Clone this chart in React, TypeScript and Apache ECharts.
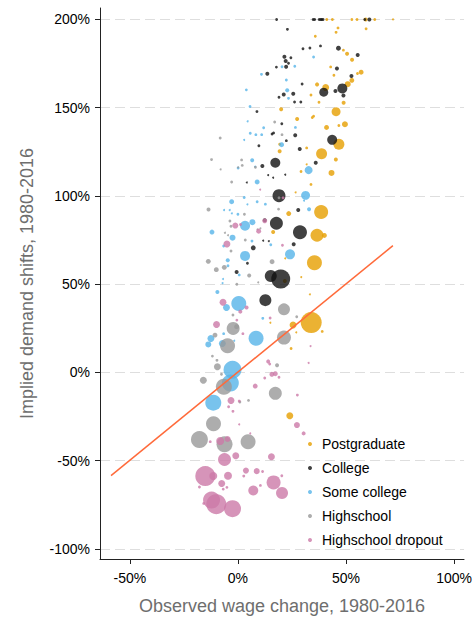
import React, { useEffect, useRef } from "react";
import * as echarts from "echarts";

// [observed wage change %, implied demand shift %, employment weight]
const postgraduate: number[][] = [
  [41.1,200,2],[43.7,200,2],[52.7,200,2],[55.1,200,2],[59.1,200,4],[63.3,200,2],[71.7,200,1],
  [46.3,195.2,2],[45.4,192.7,2],[59.3,194.7,2],[35.8,190.5,2],[48.8,182.6,2],[50.5,180.6,4],[52.8,177.2,4],
  [42.9,173.1,2],[57.0,170.1,6],[55.3,169.4,2],[44.4,168.4,2],[52.7,165.5,6],[50.8,163.3,9],[36.6,163.2,4],
  [40.6,161.5,12],[33.8,157.2,2],[37.5,153.1,2],[48.9,152.8,4],[20.0,149.1,4],[45.4,147.7,20],[35.0,145.2,2],
  [34.4,144.4,2],[27.4,143.6,4],[46.7,139.9,2],[41.0,138.8,6],[49.5,140.6,9],[46.7,129.3,30],[19.3,129.3,2],
  [31.8,127.2,2],[19.3,125.3,4],[38.7,123.9,30],[45.3,120.6,4],[29.2,113.8,2],[43.3,113.0,9],[31.8,117.9,1],
  [33.8,106.5,2],[26.7,102.0,1],[38.5,90.9,49],[23.5,90.0,6],[36.6,77.7,42],[40.0,77.6,6],[16.3,79.5,4],
  [35.4,62.1,56],[21.7,51.8,4],[29.3,54.0,1],[33.3,44.2,1],[33.9,28.2,110],[25.5,26.8,12],[27.0,22.7,1],
  [39.0,23.2,2],[24.6,13.5,2],[24.0,-24.6,12],[21.9,64.6,1],[15.0,28.1,1]
];

const college: number[][] = [
  [17.9,200,2],[34.8,200,2],[35.5,200,2],[37.6,200,2],[38.3,200,2],[38.8,200,2],[39.4,200,2],[58.7,200,2],[60.8,200,4],
  [22.9,194.4,2],[30.1,183.4,2],[33.3,183.8,2],[38.2,185.0,2],[46.5,183.7,6],[55.4,179.9,4],[21.5,178.9,4],
  [22.1,176.5,4],[24.5,178.3,2],[23.4,175.2,2],[22.3,173.2,4],[17.8,173.0,2],[13.6,169.2,4],[45.8,172.2,4],
  [52.5,168.0,4],[29.7,163.4,2],[39.7,158.8,20],[48.3,160.9,25],[45.1,159.5,4],[48.8,156.9,4],[21.2,157.5,4],
  [25.6,157.9,4],[19.0,155.9,2],[26.2,153.2,2],[29.1,153.2,2],[8.8,147.8,2],[20.3,140.9,2],[15.8,135.1,2],
  [16.5,135.7,2],[26.5,134.4,4],[22.4,131.3,2],[43.6,131.8,25],[9.7,128.4,2],[28.6,126.6,4],[17.3,118.8,25],
  [11.3,117.0,4],[36.0,118.8,4],[14.0,111.8,1],[16.3,110.3,1],[21.9,112.0,1],[4.1,107.6,1],[19.0,100.1,42],
  [27.9,92.0,4],[17.8,84.5,42],[28.7,79.4,49],[12.4,86.2,4],[11.7,74.6,1],[14.3,74.4,1],[25.8,72.6,4],
  [7.1,70.6,6],[4.4,61.8,2],[-0.6,56.9,4],[15.2,54.6,36],[19.8,52.9,90],[12.7,40.9,36]
];

const someCollege: number[][] = [
  [35.0,178.7,2],[20.4,173.2,2],[26.3,173.5,2],[10.9,168.9,2],[22.4,165.7,2],[3.9,160.1,2],[22.8,159.9,4],
  [23.4,155.3,2],[5.6,150.7,2],[4.5,142.3,1],[11.9,138.6,2],[26.6,138.8,2],[5.7,135.5,2],[8.3,134.7,2],
  [11.0,134.7,2],[20.2,129.0,6],[2.9,131.7,1],[6.6,120.2,4],[8.0,116.6,1],[0.1,115.8,2],[32.7,114.6,16],
  [8.9,107.9,6],[31.3,100.3,20],[2.9,99.1,2],[-2.9,96.7,6],[8.9,96.7,2],[12.7,95.3,2],[30.6,97.3,1],
  [32.9,92.4,4],[4.4,95.2,1],[-6.4,92.0,1],[-3.8,92.0,1],[-2.8,90.1,1],[0.0,89.6,2],[3.3,83.1,25],
  [6.7,85.1,9],[-12.0,79.5,6],[-2.5,76.3,9],[-6.6,71.6,2],[15.2,72.3,2],[6.5,74.4,2],[24.1,66.9,25],
  [3.3,66.0,25],[-4.7,63.5,4],[-4.6,60.4,2],[0.6,55.2,2],[-6.9,52.9,1],[-7.1,50.6,1],[-9.5,45.5,4],
  [0.4,39.0,56],[-5.3,36.7,12],[11.5,30.6,2],[-6.6,21.9,2],[8.4,19.3,56],[-12.5,19.2,12],[-13.7,15.8,9],
  [-7.2,16.3,12],[-2.5,1.5,81],[-3.5,-6.1,72],[-11.4,-17.2,64],[-1.7,17.9,1]
];

const highschool: number[][] = [
  [-8.2,132.8,2],[17.0,141.9,2],[20.4,134.7,2],[-12.2,120.6,2],[1.7,120.4,2],[2.0,117.3,2],[0.1,116.2,1],
  [-8.0,115.0,1],[-2.9,107.9,2],[19.0,98.9,2],[-13.6,92.3,4],[18.8,92.5,2],[3.0,89.6,2],[-3.7,85.8,2],
  [-3.2,82.8,2],[9.1,81.0,1],[-6.0,79.1,1],[-4.6,77.7,1],[-13.7,62.9,6],[15.8,62.7,6],[-10.0,58.2,6],
  [-6.3,59.5,6],[5.2,54.9,4],[-0.5,49.9,2],[9.4,51.0,1],[21.3,35.7,36],[-2.2,24.9,42],[-0.6,25.9,6],
  [21.3,19.7,49],[-4.8,15.1,56],[-10.6,21.1,6],[-11.8,9.2,2],[-9.5,3.2,12],[18.1,4.0,4],[-16.0,-4.5,12],
  [-6.5,-8.2,64],[17.3,-11.9,42],[4.9,-15.9,2],[0.9,-16.8,2],[-11.3,-29.2,56],[-17.8,-38.1,72],
  [-6.2,-40.8,64],[4.7,-39.4,56],[27.2,31.5,2],[-7.6,-1.1,2],[-9.7,6.8,2],[-2.3,32.5,2],[-3.2,68.8,2],
  [10.4,81.6,1],[3.4,75.0,2],[8.1,116.2,2]
];

const highschoolDropout: number[][] = [
  [10.3,103.6,1],[20.9,98.9,2],[-1.2,83.2,9],[12.4,85.9,6],[1.2,83.8,2],[9.6,80.0,6],[-5.1,72.7,12],
  [20.6,72.0,2],[-6.9,39.7,12],[4.0,36.8,4],[1.1,34.4,4],[-9.9,27.1,12],[2.3,21.9,2],[-0.5,29.6,2],
  [14.9,30.8,2],[14.0,6.2,4],[17.3,-0.8,6],[15.7,-1.1,6],[12.4,-3.2,2],[8.0,-7.8,6],[33.6,14.9,1],
  [32.7,5.3,1],[27.5,-12.9,2],[-3.2,-15.9,12],[-4.3,-19.5,2],[-2.3,-22.1,2],[0.6,-29.5,1],[5.7,-34.6,1],
  [27.3,-29.9,9],[30.4,-34.6,4],[-8.2,-38.9,16],[-4.8,-37.8,9],[-12.8,-39.3,2],[-6.2,-49.4,42],
  [-1.0,-47.3,12],[15.5,-47.8,12],[-15.1,-58.8,100],[-11.4,-58.8,16],[-4.6,-58.6,16],[3.7,-55.7,9],
  [2.7,-58.8,2],[8.7,-56.0,9],[11.4,-56.2,2],[16.5,-62.4,49],[20.3,-58.6,2],[-7.5,-63.0,12],[-5.1,-65.2,2],
  [-6.8,-66.2,2],[-17.8,-65.0,2],[7.1,-67.0,25],[10.4,-64.1,2],[20.4,-68.4,36],[-12.2,-72.4,72],
  [-10.0,-74.7,100],[-15.8,-74.3,2],[-2.5,-77.3,72],[19.0,-2.8,2],[14.7,4.7,2],[0.6,-16.3,2]
];

const fitLine: number[][] = [[-58.7, -58.5], [71.7, 71.8]];

const seriesNames = ["Postgraduate", "College", "Some college", "Highschool", "Highschool dropout"];
const seriesColors = ["#E69F00", "#111111", "#56B4E9", "#999999", "#CC79A7"];
const xTicks = [-50, 0, 50, 100];
const yTicks = [-100, -50, 0, 50, 100, 150, 200];

const FONT = "'Liberation Sans', Arial, Helvetica, sans-serif";

export default function App() {
  const ref = useRef<HTMLDivElement>(null);
  useEffect(() => {
    if (!ref.current) return;
    const chart = echarts.init(ref.current, null, { renderer: "svg" });
    const groups = [postgraduate, college, someCollege, highschool, highschoolDropout];
    const scatter = groups.map((d, i) => ({
      name: seriesNames[i],
      type: "scatter",
      data: d,
      symbol: "circle",
      symbolSize: (v: number[]) => 2 * Math.sqrt(v[2]),
      itemStyle: { color: seriesColors[i], opacity: 0.8 },
      z: 2 + i,
    }));
    chart.setOption({
      animation: false,
      textStyle: { fontFamily: FONT },
      grid: { left: 100, top: 8, right: 9, bottom: 66 },
      legend: {
        data: seriesNames,
        orient: "vertical",
        left: 308,
        top: 436,
        padding: 0,
        icon: "circle",
        itemWidth: 14,
        itemHeight: 4,
        itemGap: 8,
        textStyle: { fontSize: 14, color: "#000", fontFamily: FONT, lineHeight: 16 },
      },
      xAxis: {
        type: "value",
        min: -63.8,
        max: 104.6,
        name: "Observed wage change, 1980-2016",
        nameLocation: "middle",
        nameGap: 38,
        nameTextStyle: { fontSize: 18, color: "#6e6e6e", fontFamily: FONT },
        axisLine: { show: true, onZero: false, lineStyle: { color: "#222", width: 1 } },
        axisTick: { show: true, length: 5, customValues: xTicks, lineStyle: { color: "#222" } },
        axisLabel: {
          customValues: xTicks,
          formatter: (v: number) => v + "%",
          fontSize: 14,
          color: "#000",
          margin: 12,
          fontFamily: FONT,
        },
        splitLine: { show: false },
      },
      yAxis: {
        type: "value",
        min: -105.8,
        max: 206.5,
        name: "Implied demand shifts, 1980-2016",
        nameLocation: "middle",
        nameGap: 64,
        nameTextStyle: { fontSize: 18, color: "#6e6e6e", fontFamily: FONT },
        axisLine: { show: true, onZero: false, lineStyle: { color: "#222", width: 1 } },
        axisTick: { show: true, length: 5, customValues: yTicks, lineStyle: { color: "#222" } },
        axisLabel: {
          customValues: yTicks,
          formatter: (v: number) => v + "%",
          fontSize: 14,
          color: "#000",
          margin: 10,
          fontFamily: FONT,
        },
        splitLine: {
          show: true,
          lineStyle: { color: "#dedede", type: [10, 5], width: 1 },
        },
      },
      series: [
        ...scatter,
        {
          name: "fit",
          type: "line",
          data: fitLine,
          showSymbol: false,
          symbol: "none",
          lineStyle: { color: "#FF6A3A", width: 1.5 },
          z: 10,
        },
      ],
    });
    return () => chart.dispose();
  }, []);
  return (
    <div
      ref={ref}
      style={{ position: "fixed", left: 0, top: 0, width: 475, height: 625, background: "#fff" }}
    />
  );
}
